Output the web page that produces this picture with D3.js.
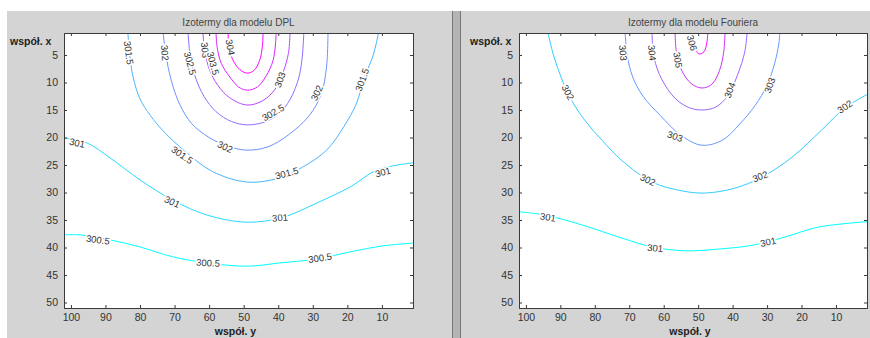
<!DOCTYPE html>
<html>
<head>
<meta charset="utf-8">
<script src="https://cdn.jsdelivr.net/npm/d3@7.9.0/dist/d3.min.js"></script>
<style>
  body { margin: 0; background: #fff; }
  svg { display: block; font-family: "Liberation Sans", Arial, sans-serif; }
</style>
</head>
<body>
<svg id="chart" width="870" height="338"></svg>
<script>
// ticks
const xTicks = [100, 90, 80, 70, 60, 50, 40, 30, 20, 10];
const yTicks = [5, 10, 15, 20, 25, 30, 35, 40, 45, 50];

// DPL model: isotherm levels and their lines, [współ. y, współ. x]
const dplLevels = [300.5, 301, 301.5, 302, 302.5, 303, 303.5, 304];
const dplLines = [
  [[102,37.7],[97.4,37.7],[88.7,38.6],[80,39.9],[70.5,41.7],[60.6,42.8],[49,43.4],[39.5,42.8],[28.8,42.1],[19.2,40.8],[9.7,39.7],[1,39.2]],
  [[102,20.1],[95.3,21],[88.7,23.7],[80,27.7],[70.5,31.4],[60.6,34.1],[49,35.4],[38.6,34.5],[28.8,31.9],[19.2,29],[11.4,25.9],[1,24.6]],
  [[83.5,1],[83,5],[82,9],[80,13],[77,16],[73,19],[67,22.5],[59,26.2],[49,28.1],[40,27.4],[33,25.4],[26,22.3],[21,18],[17.5,14],[15,9],[12.5,5],[11,1]],
  [[73.3,1],[72.5,5],[71,9.5],[68.5,14],[65,17.5],[60,20],[54.5,21.6],[49,22.3],[43,21.7],[37,19.5],[31,16],[27.5,12],[26,7],[25.6,1]],
  [[66.1,1],[65.5,5],[64,9],[61.5,12.5],[58,15.3],[53.5,17.1],[49,17.7],[44,17.2],[40,15.8],[36.5,13],[34,9],[33,5],[32.6,1]],
  [[61.8,1],[61.3,4],[60,7.5],[57.5,10.5],[54,12.8],[49,14.1],[44.5,13.3],[41,11.3],[38.5,8],[37,4.5],[36.6,1]],
  [[58,1],[57.7,3.5],[56.5,6.5],[54,9],[51.5,10.8],[49,11.4],[46,10.8],[43.5,8.8],[41.5,6],[40.8,3],[40.6,1]],
  [[54.5,1],[54.3,3.5],[53.2,5.8],[51.2,7.6],[49,8.3],[47,7.8],[45.4,6],[44.6,3.5],[44.4,1]]
];
// [level, y, x, angle]
const dplLabels = [
  ["300.5", 92.2, 38.6, 8], ["300.5", 60.3, 42.8, 3], ["300.5", 27.9, 41.9, -8],
  ["301", 98.2, 21, 12], ["301", 70.7, 31.7, 25], ["301", 39.5, 34.6, -5], ["301", 9.7, 26.3, -15],
  ["301.5", 83.3, 4.6, 82], ["301.5", 15.7, 9.5, -70], ["301.5", 67.8, 23.2, 35], ["301.5", 37.5, 26.5, -15],
  ["302", 72.8, 4.6, 85], ["302", 28.8, 11.9, -65], ["302", 55.4, 21.7, 25],
  ["302.5", 65.5, 6.5, 75], ["302.5", 41.5, 15.5, -30],
  ["303", 61.2, 4.1, 85], ["303", 39.5, 9.5, -70],
  ["303.5", 58.9, 6.5, 75],
  ["304", 53.9, 3.6, 80]
];

// Fourier model
const fourierLevels = [301, 302, 303, 304, 305, 306];
const fourierLines = [
  [[102,33.5],[94.5,34.1],[83.7,35.9],[72.1,38.3],[63.4,39.9],[53.8,40.6],[44.3,40.3],[34.4,39.6],[24.8,38.1],[15.2,36.3],[1,35.3]],
  [[93.6,1],[92,5],[89.5,9.5],[86.5,13.5],[82.5,17.2],[77.9,20.5],[72.1,24.2],[63.4,28.1],[54.7,29.7],[48,30.1],[39.3,29.2],[31.5,27.2],[22.8,23.6],[14.1,18.6],[7.4,14.6],[1,12.2]],
  [[71.2,1],[70.6,5],[69,9],[66,12.5],[61,16],[55,19.6],[49,21.4],[43,20.5],[38,17.6],[33.5,14.2],[30,10.5],[27.8,6.5],[26.6,3],[26.3,1]],
  [[63.4,1],[62.8,5.5],[60.5,9.5],[56.5,13],[52.5,14.6],[48.9,15],[45,14.5],[41.5,12.5],[38.5,8.5],[36.5,4.5],[35.8,1]],
  [[56.7,1],[56.3,4.5],[54.8,7.8],[52,10.2],[48.9,11],[46,10.3],[43.8,7.8],[42.6,4.5],[42.2,1]],
  [[51.8,1],[51.2,3],[49.8,4.8],[48.3,4.4],[47.5,2.8],[47.2,1]]
];
const fourierLabels = [
  ["301", 93.6, 34.5, 10], ["301", 62.5, 40.1, 5], ["301", 29.7, 39, -12],
  ["302", 87.8, 11.8, 62], ["302", 64.6, 27.7, 25], ["302", 32, 27.1, -20], ["302", 7.4, 14.4, -35],
  ["303", 71.8, 4.6, 85], ["303", 29.2, 10.5, -70], ["303", 56.7, 19.8, 18],
  ["304", 63.4, 4.6, 85], ["304", 40.8, 11.4, -70],
  ["305", 55.9, 5.9, 80],
  ["306", 51.8, 2.8, 75]
];

const svg = d3.select('#chart');
svg.append('rect').attr('width', 870).attr('height', 338).attr('fill', '#fff');
svg.append('rect').attr('x', 7).attr('y', 11).attr('width', 863).attr('height', 327).attr('fill', '#d4d4d4');
// window divider
svg.append('rect').attr('x', 452).attr('y', 11).attr('width', 9).attr('height', 327).attr('fill', '#b4b4b4');
svg.append('line').attr('x1', 452.5).attr('x2', 452.5).attr('y1', 11).attr('y2', 338).attr('stroke', '#777');
svg.append('line').attr('x1', 460.5).attr('x2', 460.5).attr('y1', 11).attr('y2', 338).attr('stroke', '#777');

const panels = [
  { x0: 64, x1: 413, title: 'Izotermy dla modelu DPL', levels: dplLevels, lines: dplLines, labels: dplLabels, xlab: 10 },
  { x0: 519, x1: 867, title: 'Izotermy dla modelu Fouriera', levels: fourierLevels, lines: fourierLines, labels: fourierLabels, xlab: 470 }
];
const plotTop = 33, plotBottom = 308;

panels.forEach((p, i) => {
  const x = d3.scaleLinear().domain([102, 1]).range([p.x0, p.x1]);
  const y = d3.scaleLinear().domain([1, 51]).range([plotTop, plotBottom]);
  const color = d3.scaleLinear()
    .domain(d3.extent(p.levels))
    .range(['#00ffff', '#ff00ff']);

  const g = svg.append('g');
  g.append('rect').attr('x', p.x0).attr('y', plotTop)
    .attr('width', p.x1 - p.x0).attr('height', plotBottom - plotTop).attr('fill', '#fff');

  g.append('clipPath').attr('id', 'clip' + i)
    .append('rect').attr('x', p.x0).attr('y', plotTop)
    .attr('width', p.x1 - p.x0).attr('height', plotBottom - plotTop);

  const line = d3.line().x(d => x(d[0])).y(d => y(d[1])).curve(d3.curveCatmullRom.alpha(0.5));
  const plot = g.append('g').attr('clip-path', `url(#clip${i})`);
  p.lines.forEach((pts, k) => {
    plot.append('path')
      .attr('d', line(pts))
      .attr('fill', 'none')
      .attr('stroke', color(p.levels[k]))
      .attr('stroke-width', 1);
  });

  p.labels.forEach(([txt, a, b, ang]) => {
    plot.append('text')
      .attr('transform', `translate(${x(a)},${y(b)}) rotate(${ang})`)
      .attr('text-anchor', 'middle')
      .attr('dy', '0.35em')
      .attr('font-size', 9.5)
      .attr('fill', '#333')
      .attr('stroke', '#fff')
      .attr('stroke-width', 3)
      .attr('paint-order', 'stroke')
      .text(txt);
  });

  // axes
  g.append('g').attr('transform', `translate(0,${plotBottom})`)
    .call(d3.axisBottom(x).tickValues(xTicks).tickSize(-3).tickPadding(6));
  g.append('g').attr('transform', `translate(0,${plotTop})`)
    .call(d3.axisTop(x).tickValues(xTicks).tickSize(-3).tickFormat(''));
  g.append('g').attr('transform', `translate(${p.x0},0)`)
    .call(d3.axisLeft(y).tickValues(yTicks).tickSize(-3).tickPadding(6));
  g.append('g').attr('transform', `translate(${p.x1},0)`)
    .call(d3.axisRight(y).tickValues(yTicks).tickSize(-3).tickFormat(''));
  g.selectAll('.domain').attr('stroke', '#3a3a3a');
  g.selectAll('.tick line').attr('stroke', '#3a3a3a');
  g.selectAll('.tick text').attr('font-size', 10.5).attr('fill', '#333')
    .attr('font-family', '"Liberation Sans", Arial, sans-serif');

  g.append('text').attr('x', (p.x0 + p.x1) / 2).attr('y', 26)
    .attr('text-anchor', 'middle').attr('font-size', 10).attr('fill', '#444')
    .text(p.title);
  g.append('text').attr('x', p.xlab).attr('y', 45)
    .attr('font-size', 10.5).attr('font-weight', 'bold').attr('fill', '#222')
    .text('współ. x');
  g.append('text').attr('x', (p.x0 + p.x1) / 2 - 3).attr('y', 335)
    .attr('text-anchor', 'middle').attr('font-size', 10.5).attr('font-weight', 'bold').attr('fill', '#222')
    .text('współ. y');
});
</script>
</body>
</html>
